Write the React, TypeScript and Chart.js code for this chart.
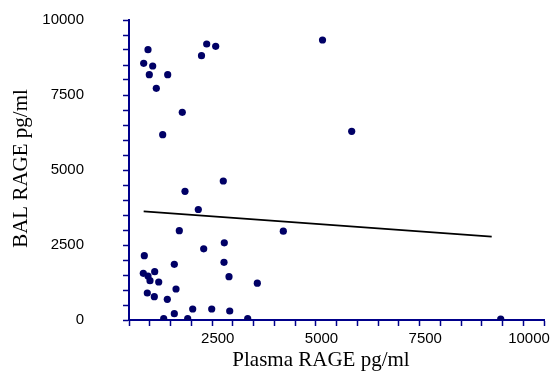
import React, { useEffect, useRef } from "react";
import { Chart, registerables } from "chart.js";

Chart.register(...registerables);

const plasmaRage = [
  458, 1872, 2089, 1747, 354, 571, 489, 933, 658, 1284, 812, 4663, 5366, 2272,
  1349, 1670, 1212, 3718, 2296, 1800, 369, 1092, 2289, 345, 458, 619, 506, 716,
  2410, 3092, 1133, 441, 610, 923, 1535, 1993, 2427, 1092, 836, 1414, 2860, 8957,
];
const balRage = [
  9010, 9200, 9123, 8810, 8557, 8467, 8177, 8177, 7723, 6923, 6177, 9333, 6290,
  4633, 4290, 3683, 2977, 2960, 2573, 2373, 2143, 1857, 1923, 1557, 1467, 1610,
  1310, 1267, 1443, 1227, 1033, 900, 777, 690, 367, 367, 300, 210, 43, 43, 43, 33,
];
const fitX = [354, 8740];
const fitY = [3623, 2777];

const xTickLabels = [2500, 5000, 7500, 10000];
const yTickLabels = [0, 2500, 5000, 7500, 10000];
const xTitle = "Plasma RAGE pg/ml";
const yTitle = "BAL RAGE pg/ml";

const AXIS = "#00008b";
const POINT = "#000066";

export default function App() {
  const ref = useRef<HTMLCanvasElement | null>(null);

  useEffect(() => {
    if (!ref.current) return;
    const titlePlugin = {
      id: "axisTitles",
      afterDraw(chart: any) {
        const ctx = chart.ctx;
        const xs = chart.scales.x;
        const ys = chart.scales.y;
        ctx.save();
        ctx.fillStyle = "#000";
        ctx.font = "21px 'Liberation Serif'";
        ctx.textAlign = "center";
        ctx.textBaseline = "alphabetic";
        const cx = (xs.left + xs.right) / 2 - 15.5;
        ctx.fillText(xTitle, cx, chart.chartArea.bottom + 45.7);
        const cy = (ys.top + ys.bottom) / 2 - 1.5;
        ctx.translate(26.7, cy);
        ctx.rotate(-Math.PI / 2);
        ctx.fillText(yTitle, 0, 0);
        ctx.restore();
      },
    };

    const chart = new Chart(ref.current, {
      type: "scatter",
      data: {
        datasets: [
          {
            type: "scatter",
            data: plasmaRage.map((x, i) => ({ x, y: balRage[i] })),
            backgroundColor: POINT,
            borderColor: POINT,
            borderWidth: 0,
            pointRadius: 3.6,
            pointHoverRadius: 3.6,
          },
          {
            type: "line",
            data: fitX.map((x, i) => ({ x, y: fitY[i] })),
            borderColor: "#000",
            borderWidth: 1.8,
            pointRadius: 0,
            fill: false,
            tension: 0,
          } as any,
        ],
      },
      options: {
        animation: false,
        responsive: false,
        events: [],
        layout: {
          autoPadding: false,
          padding: { top: 20, right: 9, left: 0, bottom: 0 },
        },
        plugins: {
          legend: { display: false },
          tooltip: { enabled: false },
          title: { display: false },
        },
        scales: {
          x: {
            type: "linear",
            min: 0,
            max: 10000,
            afterFit: (s: any) => {
              s.height = 55;
              s.paddingLeft = 0;
              s.paddingRight = 0;
            },
            ticks: {
              stepSize: 500,
              autoSkip: false,
              maxRotation: 0,
              labelOffset: -15,
              padding: 4,
              color: "#000",
              font: { family: "'Liberation Sans'", size: 15 },
              callback: (v: any) =>
                xTickLabels.includes(Number(v)) ? String(v) : "",
            },
            grid: {
              display: true,
              drawOnChartArea: false,
              drawTicks: true,
              tickLength: 6,
              tickWidth: 1.5,
              tickColor: AXIS,
            },
            border: { display: true, color: AXIS, width: 2 },
          },
          y: {
            type: "linear",
            min: 0,
            max: 10000,
            afterFit: (s: any) => {
              s.width = 129;
              s.paddingTop = 0;
              s.paddingBottom = 0;
            },
            ticks: {
              stepSize: 500,
              autoSkip: false,
              padding: 39,
              color: "#000",
              font: { family: "'Liberation Sans'", size: 15 },
              callback: (v: any) =>
                yTickLabels.includes(Number(v)) ? String(v) : "",
            },
            grid: {
              display: true,
              drawOnChartArea: false,
              drawTicks: true,
              tickLength: 6,
              tickWidth: 1.5,
              tickColor: AXIS,
            },
            border: { display: true, color: AXIS, width: 2 },
          },
        },
      },
      plugins: [titlePlugin],
    } as any);
    return () => chart.destroy();
  }, []);

  return (
    <div style={{ position: "absolute", left: 0, top: 0, width: 553, height: 375, background: "#fff" }}>
      <canvas ref={ref} width={553} height={375} style={{ display: "block" }} />
    </div>
  );
}
